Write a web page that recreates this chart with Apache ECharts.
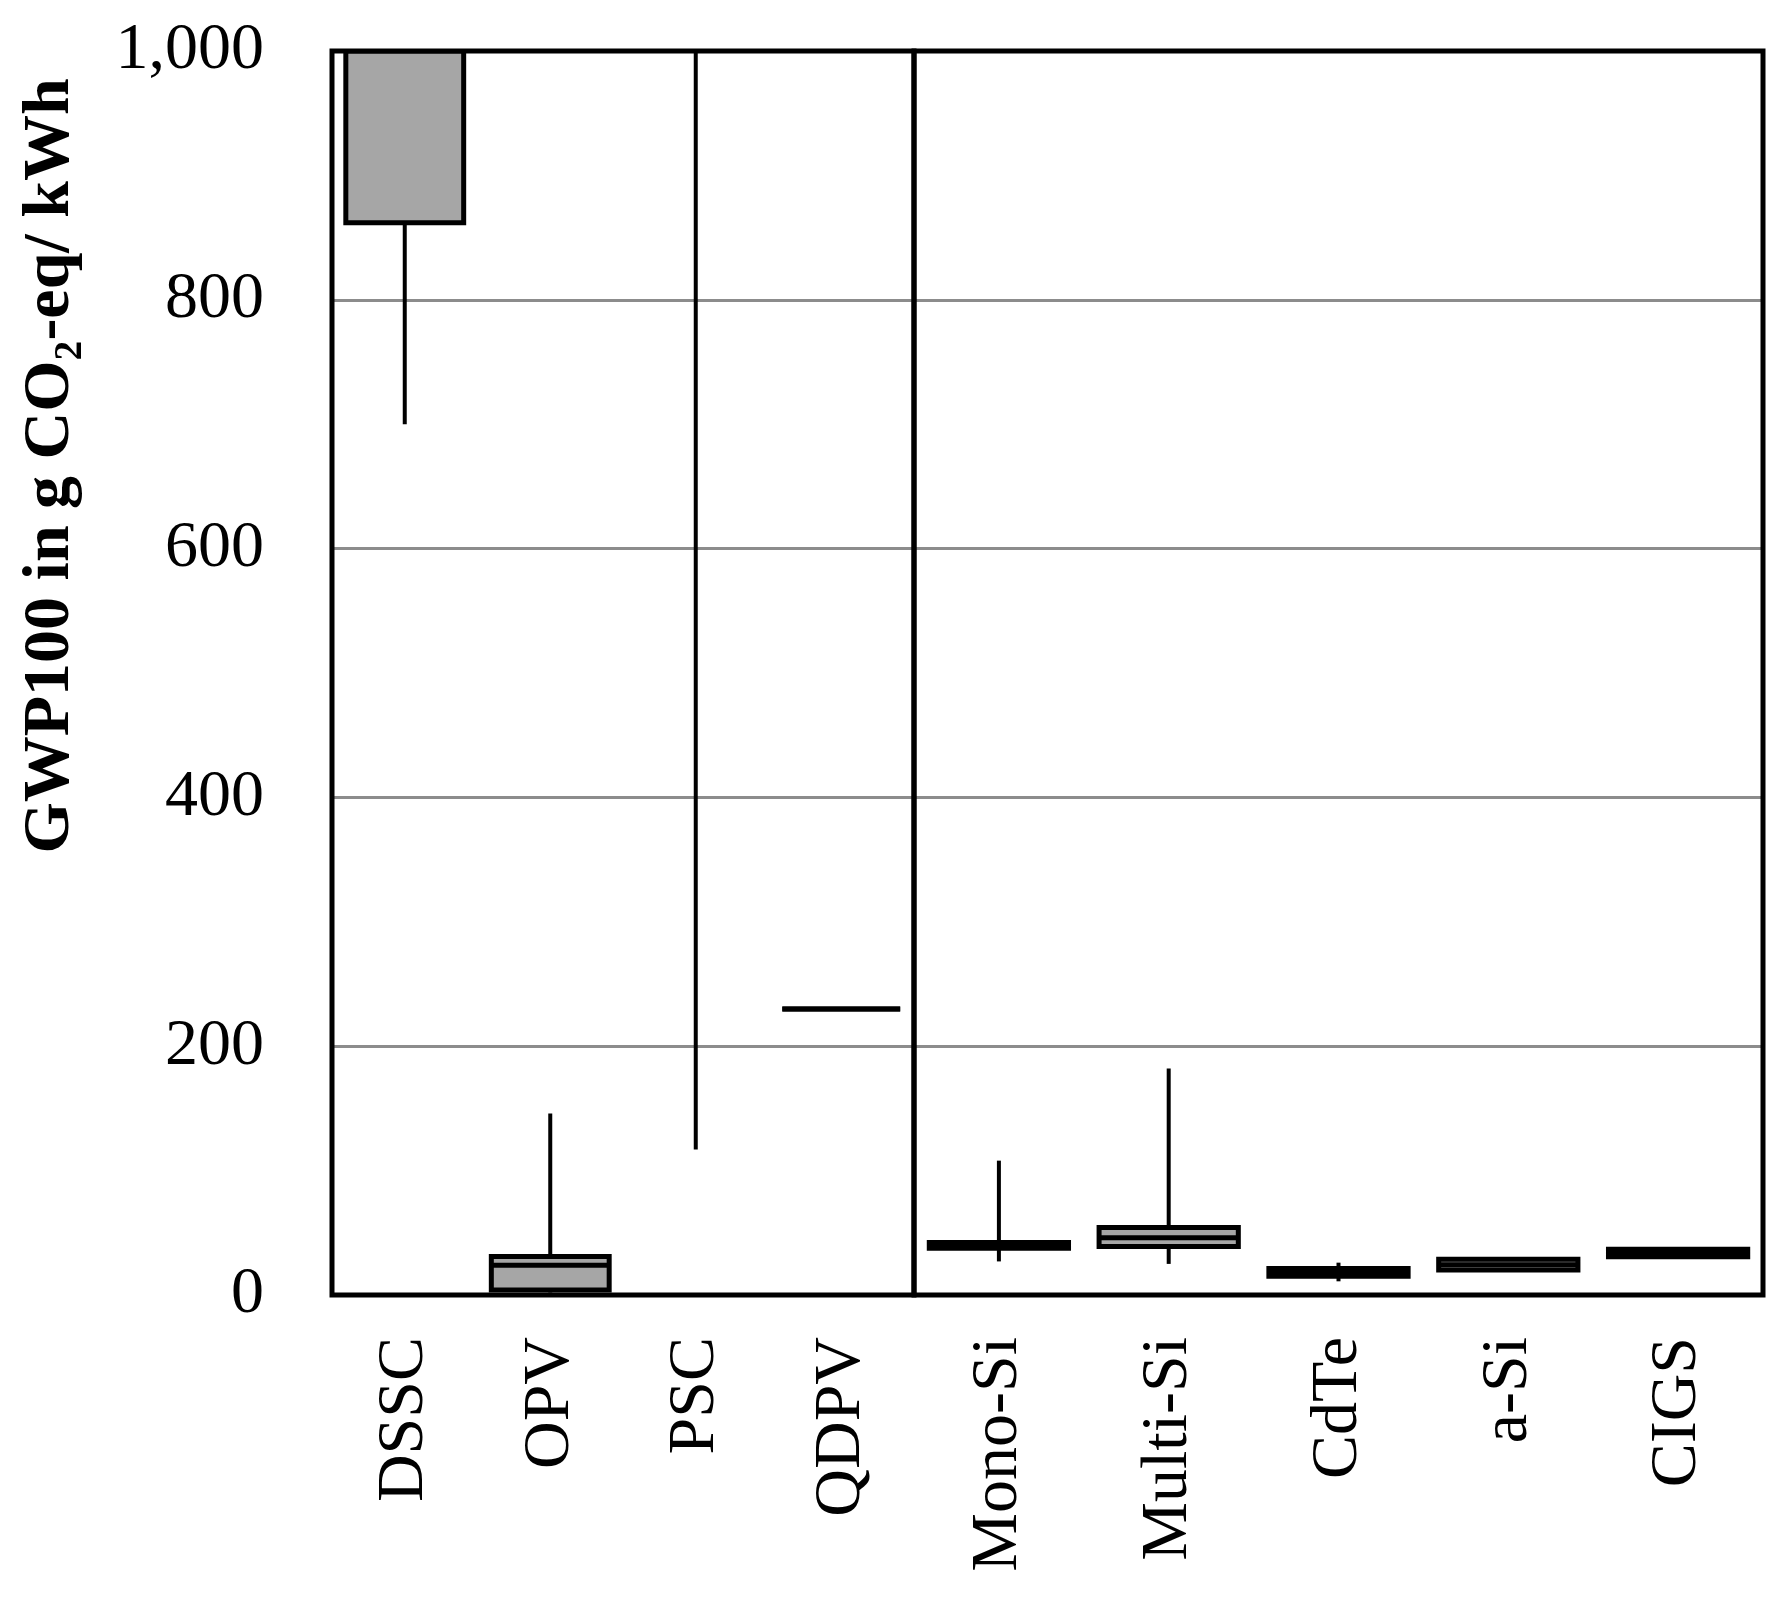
<!DOCTYPE html>
<html>
<head>
<meta charset="utf-8">
<script src="https://cdn.jsdelivr.net/npm/echarts@6/dist/echarts.min.js"></script>
<style>
  html, body { margin: 0; padding: 0; background: #ffffff; }
  #chart { width: 1781px; height: 1610px; }
</style>
</head>
<body>
<div id="chart"></div>
<script>
// ---- Data (g CO2-eq / kWh) ----
// Values at 1000 are clipped by the axis top (true values lie above 1000).
const leftCategories  = ['DSSC', 'OPV', 'PSC', 'QDPV'];
const rightCategories = ['Mono-Si', 'Multi-Si', 'CdTe', 'a-Si', 'CIGS'];

const leftMin    = [700, 2,   117,  230];
const leftQ1     = [862, 4,   1000, 230];
const leftMedian = [1000, 24, 1000, 230];
const leftQ3     = [1000, 31, 1000, 230];
const leftMax    = [1000, 146, 1000, 230];

const rightMin    = [27,   25,  11,   20,   30.7];
const rightQ1     = [37.6, 39,  15,   20,   30.7];
const rightMedian = [40,   46,  18,   24.4, 33.8];
const rightQ3     = [42.2, 54.3, 21.3, 28.8, 36.8];
const rightMax    = [108,  182, 26,   28.8, 36.8];

const yTicks = [0, 200, 400, 600, 800, 1000];

// ---- Build series data ----
function buildRows(mins, q1s, meds, q3s, maxs) {
  return mins.map((m, i) => [i, m, q1s[i], meds[i], q3s[i], maxs[i]]);
}
const leftRows  = buildRows(leftMin, leftQ1, leftMedian, leftQ3, leftMax);
const rightRows = buildRows(rightMin, rightQ1, rightMedian, rightQ3, rightMax);

const BOX_FILL = '#a6a6a6';
const STROKE = '#000000';

function makeRenderer(widthRatio) {
  return function (params, api) {
    const idx = api.value(0);
    const pMin = api.coord([idx, api.value(1)]);
    const pQ1  = api.coord([idx, api.value(2)]);
    const pMed = api.coord([idx, api.value(3)]);
    const pQ3  = api.coord([idx, api.value(4)]);
    const pMax = api.coord([idx, api.value(5)]);
    const band = api.size([1, 0])[0];
    const w = band * widthRatio;
    const cx = pMin[0];
    const x0 = cx - w / 2;
    const topY = params.coordSys.y;
    const children = [];
    // whiskers (no caps)
    if (pMin[1] !== pQ1[1]) {
      children.push({ type: 'line', shape: { x1: cx, y1: pMin[1], x2: cx, y2: pQ1[1] },
        style: { stroke: STROKE, lineWidth: 4 } });
    }
    if (pMax[1] !== pQ3[1]) {
      children.push({ type: 'line', shape: { x1: cx, y1: pQ3[1], x2: cx, y2: pMax[1] },
        style: { stroke: STROKE, lineWidth: 4 } });
    }
    // box (skipped when it lies entirely above the visible range)
    if (pQ1[1] > topY + 0.5) {
      children.push({ type: 'rect',
        shape: { x: x0, y: pQ3[1], width: w, height: pQ1[1] - pQ3[1] },
        style: { fill: BOX_FILL, stroke: STROKE, lineWidth: 5 } });
      if (pMed[1] > topY + 0.5) {
        children.push({ type: 'line', shape: { x1: x0, y1: pMed[1], x2: x0 + w, y2: pMed[1] },
          style: { stroke: STROKE, lineWidth: 5 } });
      }
    }
    return { type: 'group', children: children };
  };
}

const serif = '"Liberation Serif", "DejaVu Serif", serif';
const gridTop = 51, gridBottom = 1610 - 1295;

const yAxisCommon = {
  type: 'value', min: 0, max: 1000, interval: 200,
  axisLine: { show: false }, axisTick: { show: false },
  splitLine: { show: true, lineStyle: { color: '#8c8c8c', width: 3 } }
};
const xAxisCommon = {
  type: 'category', boundaryGap: true,
  axisLine: { show: false }, axisTick: { show: false },
  splitLine: { show: false },
  axisLabel: { rotate: 90, margin: 42, fontFamily: serif, fontSize: 66, color: '#000', interval: 0 }
};

const option = {
  backgroundColor: '#ffffff',
  animation: false,
  grid: [
    { left: 332, top: gridTop, width: 582, bottom: gridBottom, show: true,
      borderColor: '#000', borderWidth: 5, backgroundColor: 'transparent', z: 3 },
    { left: 914, top: gridTop, width: 849, bottom: gridBottom, show: true,
      borderColor: '#000', borderWidth: 5, backgroundColor: 'transparent', z: 3 }
  ],
  xAxis: [
    Object.assign({}, xAxisCommon, { gridIndex: 0, data: leftCategories }),
    Object.assign({}, xAxisCommon, { gridIndex: 1, data: rightCategories })
  ],
  yAxis: [
    Object.assign({}, yAxisCommon, { gridIndex: 0,
      axisLabel: { show: true, margin: 68, fontFamily: serif, fontSize: 66, color: '#000',
        customValues: yTicks,
        formatter: v => Number(v).toLocaleString('en-US') } }),
    Object.assign({}, yAxisCommon, { gridIndex: 1, axisLabel: { show: false } })
  ],
  series: [
    { type: 'custom', xAxisIndex: 0, yAxisIndex: 0, data: leftRows, clip: true,
      encode: { x: 0, y: [1, 2, 3, 4, 5] }, renderItem: makeRenderer(0.81), z: 2 },
    { type: 'custom', xAxisIndex: 1, yAxisIndex: 1, data: rightRows, clip: true,
      encode: { x: 0, y: [1, 2, 3, 4, 5] }, renderItem: makeRenderer(0.82), z: 2 }
  ],
  graphic: [
    { type: 'text', x: 51, y: 466, rotation: Math.PI / 2,
      style: { text: 'GWP100 in g CO\u2082-eq/ kWh', fontFamily: serif, fontWeight: 'bold',
        fontSize: 66, fill: '#000', align: 'center', verticalAlign: 'middle' } }
  ]
};

const chart = echarts.init(document.getElementById('chart'), null, { renderer: 'canvas' });
chart.setOption(option);
</script>
</body>
</html>
